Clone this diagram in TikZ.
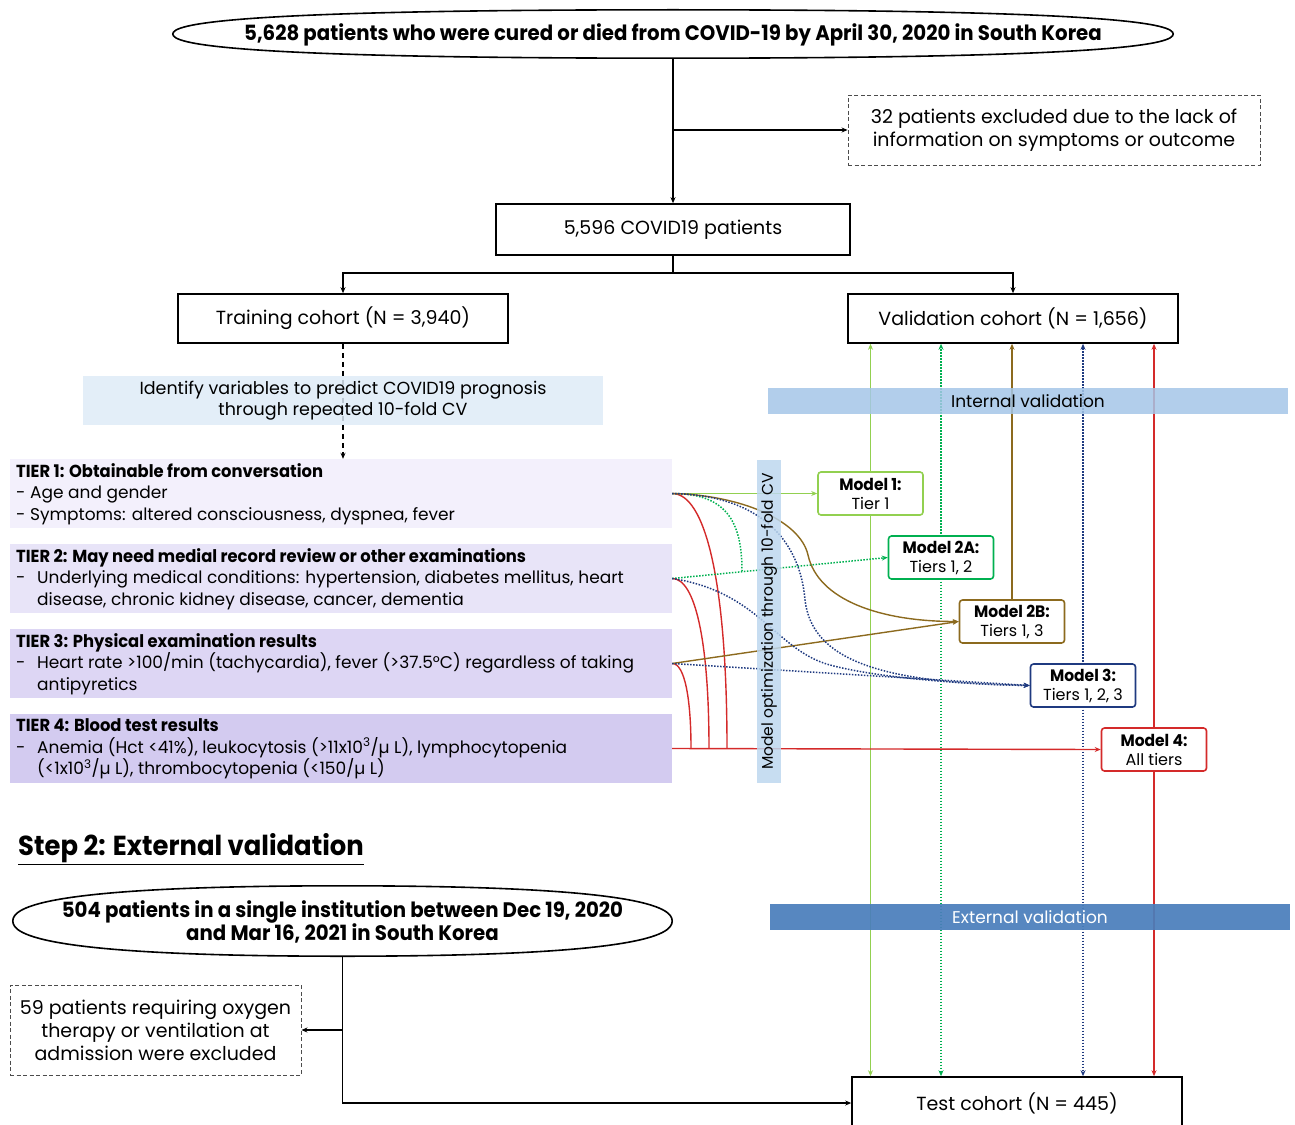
\documentclass[tikz,border=0pt]{standalone}
\usepackage{fontspec}
\setmainfont{Poppins}
\newfontfamily\cond[FakeStretch=0.94]{Poppins}
\usetikzlibrary{arrows.meta,calc}
\definecolor{lgreen}{HTML}{92D050}
\definecolor{dgreen}{HTML}{00B050}
\definecolor{brownc}{HTML}{8C6A1E}
\definecolor{navyc}{HTML}{1F3A80}
\definecolor{redc}{HTML}{D42A2A}
\definecolor{tA}{HTML}{F3F0FC}
\definecolor{tB}{HTML}{E8E4F8}
\definecolor{tC}{HTML}{DDD6F4}
\definecolor{tD}{HTML}{D3CBF0}
\definecolor{idblue}{HTML}{DEEBF7}
\definecolor{optblue}{HTML}{BDD7EE}
\definecolor{intblue}{HTML}{A4C6E7}
\definecolor{extblue}{HTML}{4A7EBB}
\newcommand\fmain{\fontsize{19}{23}\selectfont}
\newcommand\ftier{\fontsize{17}{21.5}\selectfont}
\newcommand\fbig{\cond\bfseries\fontsize{21}{23.5}\selectfont}
\newcommand\tb[1]{{\cond\bfseries #1}}
\newcommand\tierhead[1]{{\cond\bfseries\fontsize{17.4}{21.5}\selectfont #1}}
\newcommand\dashind{\makebox[21pt][l]{-}}
\newcommand\ovalpath[1]{%
  \draw[line width=1.6pt] (#1.west)
   .. controls ($(#1.west)!0.4!(#1.north west)$) and ($(#1.north)!0.9!(#1.north west)$) .. (#1.north)
   .. controls ($(#1.north)!0.9!(#1.north east)$) and ($(#1.east)!0.4!(#1.north east)$) .. (#1.east)
   .. controls ($(#1.east)!0.4!(#1.south east)$) and ($(#1.south)!0.9!(#1.south east)$) .. (#1.south)
   .. controls ($(#1.south)!0.9!(#1.south west)$) and ($(#1.west)!0.4!(#1.south west)$) .. (#1.west) -- cycle;}
\begin{document}
\begin{tikzpicture}[x=1pt,y=-1pt,>={Stealth[length=6pt,width=5pt]},
  every node/.style={inner sep=0pt},
  box/.style={draw,line width=1.6pt,fill=white,font=\fmain},
  dbox/.style={draw=black!70,dash pattern=on 4pt off 2.5pt,line width=0.9pt,font=\fmain,align=center},
  tierbox/.style={minimum width=662pt,minimum height=69pt},
  tiertext/.style={anchor=west,align=left,font=\ftier},
  bar/.style={fill opacity=0.85,text opacity=1},
  mbox/.style={draw,fill=white,line width=1.6pt,rounded corners=3pt,minimum width=105pt,minimum height=43pt,align=center,font=\fontsize{16}{19}\selectfont},
  conn/.style={line width=1.3pt},
  cl/.style={line width=1.4pt},
  dot/.style={line width=1.5pt,dash pattern=on 1.5pt off 1.5pt}]
\clip (0,0) rectangle (1295,1124);
\useasboundingbox (0,0) rectangle (1295,1124);

% top part
\node[minimum width=1000pt,minimum height=48pt] (top) at (673,34) {};
\ovalpath{top}
\node[font=\fbig] (toptxt) at (673,35) {5,628 patients who were cured or died from COVID-19 by April 30, 2020 in South Korea};
\node[box,minimum width=354pt,minimum height=51pt] (all) at (673,229.5) {5,596 COVID19 patients};
\node[dbox,minimum width=412pt,minimum height=70pt] (excl) at (1054,130) {32 patients excluded due to the lack of\\information on symptoms or outcome};
\draw[conn,->] (top.south) -- (all.north);
\coordinate (br) at (top.south |- excl.west);
\draw[conn,->] (br) -- (excl.west);
\node[box,minimum width=330pt,minimum height=49pt] (train) at (343,318.5) {Training cohort (N = 3,940)};
\node[box,minimum width=330pt,minimum height=49pt] (val) at (1013,318.5) {Validation cohort (N = 1,656)};
\coordinate (split) at (673,273);
\draw[conn,->] (all.south) -- (split) -| (train.north);
\draw[conn,->] (split) -| (val.north);

% tiers
\node[tierbox,fill=tA] (tier1) at (341,493.5) {};
\node[tierbox,fill=tB] (tier2) at (341,578.5) {};
\node[tierbox,fill=tC] (tier3) at (341,663.5) {};
\node[tierbox,fill=tD] (tier4) at (341,748.5) {};
\node[tiertext] (tx1) at (16,494) {\tierhead{TIER 1: Obtainable from conversation}\\- Age and gender\\- Symptoms: altered consciousness, dyspnea, fever};
\node[tiertext] (tx2) at (16,579) {\tierhead{TIER 2: May need medial record review or other examinations}\\\dashind Underlying medical conditions: hypertension, diabetes mellitus, heart\\\hspace*{21pt}disease, chronic kidney disease, cancer, dementia};
\node[tiertext] (tx3) at (16,664) {\tierhead{TIER 3: Physical examination results}\\\dashind Heart rate >100/min (tachycardia), fever (>37.5°C) regardless of taking\\\hspace*{21pt}antipyretics};
\node[tiertext] (tx4) at (16,749) {\tierhead{TIER 4: Blood test results}\\\dashind Anemia (Hct <41\%), leukocytosis (>11x10\textsuperscript{3}/µ L), lymphocytopenia\\\hspace*{21pt}(<1x10\textsuperscript{3}/µ L), thrombocytopenia (<150/µ L)};

% identify box with dashed arrow
\draw[conn,dash pattern=on 5pt off 4pt,->] (train.south) -- (train.south |- tier1.north);
\node[bar,fill=idblue,minimum width=520pt,minimum height=49pt,align=center,font=\fontsize{17.5}{21}\selectfont] (ident) at (343,400.5) {Identify variables to predict COVID19 prognosis\\through repeated 10-fold CV};

% model boxes positions
\coordinate (m1c) at (870.5,493.5);
\coordinate (m2ac) at (941,557.5);
\coordinate (m2bc) at (1012,621.5);
\coordinate (m3c) at (1083,685.5);
\coordinate (m4c) at (1154,749.5);

% test cohort
\node[box,minimum width=330pt,minimum height=52pt] (test) at (1017,1103) {Test cohort (N = 445)};

% vertical validation lines
\draw[cl,lgreen,->] (m1c) -- (m1c |- val.south);
\draw[cl,lgreen,->] (m1c) -- (m1c |- test.north);
\draw[dot,dgreen,->] (m2ac) -- (m2ac |- val.south);
\draw[dot,dgreen,->] (m2ac) -- (m2ac |- test.north);
\draw[cl,brownc,->] (m2bc) -- (m2bc |- val.south);
\draw[dot,navyc,->] (m3c) -- (m3c |- val.south);
\draw[dot,navyc,->] (m3c) -- (m3c |- test.north);
\draw[cl,redc,->] (m4c) -- (m4c |- val.south);
\draw[cl,redc,->] (m4c) -- (m4c |- test.north);

% validation bars
\node[bar,fill=intblue,minimum width=520pt,minimum height=26pt,font=\fontsize{17}{20}\selectfont] (intv) at (1028,401) {Internal validation};
\node[fill=extblue,fill opacity=0.93,text opacity=1,minimum width=520pt,minimum height=26pt,text=white,font=\fontsize{17}{20}\selectfont] (extv) at (1030,917) {External validation};

% curves
\coordinate (e1) at (tier1.east);
\coordinate (e2) at (tier2.east);
\coordinate (e3) at (tier3.east);
\coordinate (e4) at (tier4.east);
\coordinate (g2a) at (742,571);
% red
\draw[cl,redc] (e1) .. controls (705,493.5) and (727,580) .. (727,748.5);
\draw[cl,redc] (e2) .. controls (695,578.5) and (709,640) .. (709,748.5);
\draw[cl,redc] (e3) .. controls (685,663.5) and (691,700) .. (691,748.5);

% model boxes
\node[mbox,draw=lgreen] (m1) at (m1c) {\tb{\fontsize{16.5}{19}\selectfont Model 1:}\\Tier 1};
\node[mbox,draw=dgreen] (m2a) at (m2ac) {\tb{\fontsize{16.5}{19}\selectfont Model 2A:}\\Tiers 1, 2};
\node[mbox,draw=brownc] (m2b) at (m2bc) {\tb{\fontsize{16.5}{19}\selectfont Model 2B:}\\Tiers 1, 3};
\node[mbox,draw=navyc] (m3) at (m3c) {\tb{\fontsize{16.5}{19}\selectfont Model 3:}\\Tiers 1, 2, 3};
\node[mbox,draw=redc] (m4) at (m4c) {\tb{\fontsize{16.5}{19}\selectfont Model 4:}\\All tiers};

\draw[cl,redc,->] (e4) -- (m4.west);
\draw[cl,lgreen,->] (e1) -- (m1.west);
\draw[dot,dgreen,->] (e2) -- (m2a.west);
\draw[dot,dgreen] (e1) .. controls (725,493.5) and (742,520) .. (g2a);
\draw[cl,brownc,->] (e1) .. controls (740,495) and (800,520) .. (808,555) .. controls (818,600) and (880,621.5) .. (m2b.west);
\draw[cl,brownc,->] (e3) -- (m2b.west);
\draw[dot,navyc,->] (e1) .. controls (760,495) and (800,540) .. (805,600) .. controls (812,660) and (880,683) .. (m3.west);
\draw[dot,navyc,->] (e2) .. controls (760,592) and (775,650) .. (830,665) .. controls (870,676) and (950,684) .. (m3.west);
\draw[dot,navyc,->] (e3) -- (m3.west);

% model optimization bar
\node[bar,fill=optblue,rotate=90,minimum width=323pt,minimum height=24pt,font=\fontsize{15.5}{17}\selectfont] (opt) at (769,621.5) {Model optimization through 10-fold CV};

% step 2
\node[anchor=west,font=\cond\bfseries\fontsize{27.5}{32}\selectfont] (step) at (18,849) {\underline{Step 2: External validation}};
\node[minimum width=659pt,minimum height=70pt] (ext) at (342.5,921) {};
\ovalpath{ext}
\node[align=center,font=\fbig] (exttxt) at (342.5,922) {504 patients in a single institution between Dec 19, 2020\\and Mar 16, 2021 in South Korea};
\node[dbox,minimum width=291pt,minimum height=90pt] (ex2) at (155.5,1030) {59 patients requiring oxygen\\therapy or ventilation at\\admission were excluded};
\draw[conn,->] (ext.south) |- (test.west);
\draw[conn,->] (ext.south |- ex2.east) -- (ex2.east);
\end{tikzpicture}
\end{document}
